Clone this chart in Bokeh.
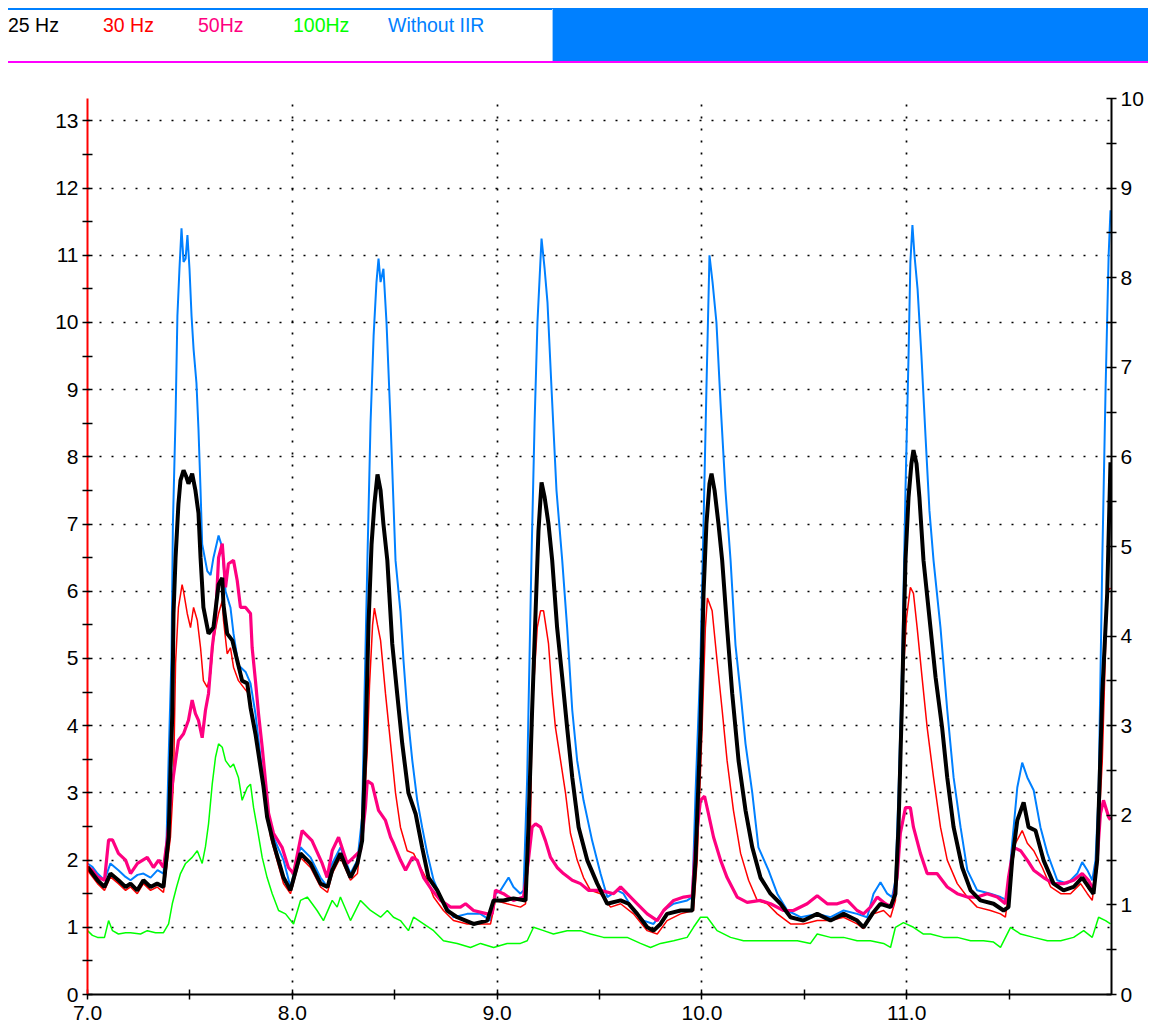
from bokeh.plotting import figure
from bokeh.layouts import column
from bokeh.models import Range1d, LinearAxis, FixedTicker, PrintfTickFormatter, Div
from bokeh.embed import file_html
from bokeh.resources import INLINE

FONT = "Liberation Sans"

series_names = ["25 Hz", "30 Hz", "50Hz", "100Hz", "Without IIR"]
series_colors = ["#000000", "#FF0000", "#FF0080", "#00FF00", "#0080FF"]

x_ticks = [7, 8, 9, 10, 11]
y_ticks_left = list(range(0, 14))
y_ticks_right = list(range(0, 11))

# Without IIR (blue)
t_blue = [7.000, 7.024, 7.049, 7.083, 7.112, 7.151, 7.186, 7.210, 7.244, 7.273, 7.308, 7.342, 7.371, 7.386,
          7.396, 7.410, 7.417, 7.430, 7.439, 7.449, 7.459, 7.469, 7.479, 7.488, 7.498, 7.508, 7.518, 7.532,
          7.542, 7.552, 7.560, 7.585, 7.601, 7.615, 7.640, 7.658, 7.674, 7.698, 7.713, 7.737, 7.772, 7.796,
          7.820, 7.845, 7.859, 7.877, 7.908, 7.957, 7.991, 8.040, 8.089, 8.138, 8.172, 8.187, 8.235, 8.284,
          8.318, 8.341, 8.353, 8.367, 8.382, 8.397, 8.411, 8.421, 8.431, 8.445, 8.460, 8.480, 8.504, 8.528,
          8.543, 8.561, 8.586, 8.610, 8.634, 8.659, 8.690, 8.732, 8.787, 8.854, 8.919, 8.968, 8.992, 9.017,
          9.056, 9.080, 9.114, 9.129, 9.147, 9.153, 9.168, 9.183, 9.197, 9.217, 9.232, 9.246, 9.266, 9.290,
          9.318, 9.342, 9.367, 9.391, 9.422, 9.464, 9.505, 9.538, 9.587, 9.617, 9.666, 9.715, 9.764, 9.813,
          9.862, 9.928, 9.953, 9.969, 9.993, 10.008, 10.022, 10.037, 10.052, 10.071, 10.091, 10.115, 10.140,
          10.164, 10.189, 10.213, 10.246, 10.276, 10.325, 10.368, 10.417, 10.482, 10.563, 10.628, 10.692,
          10.758, 10.807, 10.838, 10.872, 10.905, 10.929, 10.945, 10.960, 10.978, 10.994, 11.009, 11.018,
          11.028, 11.038, 11.053, 11.072, 11.092, 11.111, 11.131, 11.165, 11.198, 11.229, 11.263, 11.296,
          11.344, 11.409, 11.458, 11.491, 11.515, 11.540, 11.564, 11.589, 11.620, 11.653, 11.687, 11.735,
          11.784, 11.833, 11.857, 11.882, 11.906, 11.922, 11.937, 11.955, 11.971, 11.986, 11.995]
v_blue = [1.95, 1.9, 1.8, 1.7, 1.95, 1.85, 1.75, 1.7, 1.78, 1.8, 1.74, 1.85, 1.8, 2.3,
          3.5, 5.0, 7.0, 8.6, 10.1, 10.8, 11.4, 10.9, 10.95, 11.3, 10.8, 10.1, 9.6, 9.1,
          8.4, 7.5, 6.7, 6.3, 6.24, 6.5, 6.83, 6.65, 6.0, 5.76, 5.37, 4.9, 4.8, 4.63,
          4.18, 3.53, 3.2, 2.64, 2.34, 2.0, 1.6, 2.19, 2.04, 1.74, 1.6, 1.9, 2.19, 1.8,
          2.0, 2.64, 4.5, 6.5, 8.5, 9.8, 10.6, 10.95, 10.6, 10.8, 10.0, 8.5, 6.46, 5.7,
          4.97, 4.23, 3.48, 2.89, 2.49, 2.1, 1.7, 1.4, 1.15, 1.2, 1.2, 1.1, 1.5, 1.55,
          1.74, 1.6, 1.5, 1.55, 3.23, 4.2, 6.5, 8.5, 10.0, 11.25, 10.8, 10.3, 9.0, 7.5,
          6.46, 5.46, 4.23, 3.48, 2.89, 2.29, 1.8, 1.45, 1.55, 1.5, 1.25, 1.1, 1.05, 1.25,
          1.35, 1.4, 1.45, 3.0, 4.97, 7.0, 9.0, 11.0, 10.6, 10.0, 8.8, 7.5, 6.46,
          5.2, 4.48, 3.73, 3.0, 2.19, 1.85, 1.5, 1.25, 1.15, 1.2, 1.15, 1.25,
          1.2, 1.15, 1.5, 1.67, 1.5, 1.45, 1.7, 3.0, 4.97, 7.5, 9.5, 10.9,
          11.45, 11.0, 10.5, 9.5, 8.3, 7.2, 6.46, 5.46, 4.23, 3.23, 2.49, 1.85,
          1.55, 1.5, 1.45, 1.4, 2.25, 3.08, 3.45, 3.23, 3.04, 2.49, 2.1, 1.7,
          1.65, 1.8, 1.97, 1.85, 1.7, 2.0, 3.0, 6.46, 9.0, 11.0, 11.67]

# 25 Hz (black)
t_black = [7.000, 7.024, 7.049, 7.083, 7.112, 7.151, 7.186, 7.210, 7.243, 7.273, 7.308, 7.340, 7.371, 7.396,
           7.405, 7.414, 7.420, 7.430, 7.444, 7.454, 7.469, 7.483, 7.493, 7.511, 7.527, 7.542, 7.552, 7.566,
           7.591, 7.615, 7.640, 7.658, 7.664, 7.682, 7.707, 7.731, 7.755, 7.780, 7.796, 7.820, 7.845, 7.859,
           7.877, 7.908, 7.957, 7.991, 8.040, 8.089, 8.138, 8.172, 8.195, 8.235, 8.284, 8.318, 8.341, 8.357,
           8.372, 8.387, 8.401, 8.416, 8.431, 8.445, 8.464, 8.488, 8.512, 8.537, 8.567, 8.602, 8.634, 8.665,
           8.708, 8.756, 8.805, 8.885, 8.952, 8.983, 9.031, 9.080, 9.139, 9.153, 9.171, 9.188, 9.202, 9.217,
           9.232, 9.251, 9.269, 9.293, 9.318, 9.342, 9.367, 9.398, 9.440, 9.489, 9.538, 9.603, 9.642, 9.684,
           9.733, 9.764, 9.798, 9.830, 9.896, 9.953, 9.969, 9.993, 10.008, 10.022, 10.037, 10.047, 10.062,
           10.081, 10.099, 10.123, 10.148, 10.179, 10.213, 10.246, 10.286, 10.335, 10.384, 10.433, 10.496,
           10.563, 10.628, 10.692, 10.758, 10.789, 10.832, 10.872, 10.921, 10.945, 10.960, 10.978, 10.994,
           11.009, 11.023, 11.033, 11.048, 11.062, 11.082, 11.116, 11.141, 11.173, 11.198, 11.229, 11.271,
           11.312, 11.360, 11.424, 11.473, 11.497, 11.515, 11.540, 11.571, 11.595, 11.629, 11.668, 11.717,
           11.766, 11.815, 11.857, 11.888, 11.912, 11.930, 11.955, 11.979, 11.995]
v_black = [1.9, 1.8, 1.7, 1.6, 1.8, 1.7, 1.6, 1.65, 1.55, 1.7, 1.6, 1.65, 1.6, 2.34,
           3.3, 4.18, 5.67, 6.5, 7.3, 7.65, 7.8, 7.7, 7.6, 7.75, 7.5, 7.16, 6.5, 5.76,
           5.37, 5.46, 6.1, 6.2, 5.8, 5.37, 5.27, 4.97, 4.67, 4.63, 4.27, 3.88, 3.38, 3.1,
           2.64, 2.25, 1.74, 1.55, 2.1, 1.95, 1.65, 1.6, 1.85, 2.1, 1.74, 1.95, 2.29, 3.63,
           5.5, 6.7, 7.3, 7.74, 7.5, 7.0, 6.46, 5.22, 4.48, 3.73, 3.0, 2.69, 2.19, 1.74,
           1.55, 1.25, 1.15, 1.05, 1.1, 1.4, 1.4, 1.43, 1.4, 2.49, 4.23, 5.7, 6.9, 7.62,
           7.4, 7.0, 6.46, 5.46, 4.72, 3.97, 3.23, 2.49, 2.0, 1.65, 1.35, 1.4, 1.35, 1.2,
           1.0, 0.95, 1.05, 1.2, 1.25, 1.25, 2.0, 3.97, 5.97, 7.0, 7.6, 7.75, 7.5,
           7.0, 6.46, 5.46, 4.48, 3.48, 2.74, 2.19, 1.74, 1.5, 1.35, 1.15, 1.1,
           1.2, 1.1, 1.2, 1.1, 1.0, 1.2, 1.35, 1.3, 1.5, 2.49, 4.48, 6.46,
           7.4, 7.9, 8.1, 7.9, 7.4, 6.46, 5.46, 4.72, 3.97, 3.23, 2.49, 1.89,
           1.55, 1.4, 1.35, 1.25, 1.3, 2.0, 2.59, 2.86, 2.49, 2.44, 2.0, 1.65,
           1.55, 1.6, 1.74, 1.6, 1.5, 2.0, 4.48, 5.97, 7.92]

# 30 Hz (red)
t_red = [7.000, 7.024, 7.049, 7.083, 7.112, 7.151, 7.186, 7.210, 7.243, 7.273, 7.308, 7.340, 7.371, 7.405,
         7.420, 7.430, 7.444, 7.462, 7.469, 7.487, 7.503, 7.518, 7.536, 7.552, 7.566, 7.585, 7.601, 7.615,
         7.640, 7.658, 7.664, 7.682, 7.698, 7.713, 7.737, 7.762, 7.786, 7.811, 7.835, 7.859, 7.877, 7.894,
         7.957, 7.991, 8.040, 8.089, 8.138, 8.172, 8.195, 8.235, 8.284, 8.318, 8.348, 8.366, 8.377, 8.392,
         8.401, 8.416, 8.431, 8.455, 8.480, 8.504, 8.528, 8.561, 8.592, 8.626, 8.659, 8.690, 8.738, 8.787,
         8.854, 8.919, 8.968, 8.992, 9.049, 9.114, 9.139, 9.163, 9.171, 9.196, 9.212, 9.227, 9.251, 9.269,
         9.285, 9.310, 9.334, 9.358, 9.391, 9.422, 9.456, 9.505, 9.554, 9.603, 9.666, 9.733, 9.782, 9.830,
         9.896, 9.959, 9.977, 10.001, 10.017, 10.027, 10.050, 10.074, 10.099, 10.123, 10.154, 10.189,
         10.228, 10.270, 10.319, 10.368, 10.433, 10.496, 10.563, 10.628, 10.692, 10.758, 10.789, 10.838,
         10.887, 10.921, 10.945, 10.960, 10.978, 10.999, 11.018, 11.033, 11.051, 11.075, 11.100, 11.131,
         11.165, 11.198, 11.247, 11.296, 11.344, 11.409, 11.458, 11.482, 11.507, 11.531, 11.564, 11.589,
         11.620, 11.662, 11.703, 11.752, 11.800, 11.849, 11.882, 11.906, 11.930, 11.955, 11.979, 11.995]
v_red = [1.85, 1.75, 1.65, 1.55, 1.75, 1.65, 1.55, 1.6, 1.5, 1.65, 1.55, 1.6, 1.52, 2.34,
         3.18, 4.93, 5.76, 6.1, 6.0, 5.67, 5.46, 5.76, 5.57, 5.16, 4.67, 4.57, 4.78, 5.27,
         5.67, 5.86, 5.57, 5.07, 5.16, 4.87, 4.67, 4.57, 4.48, 4.08, 3.59, 3.18, 2.7, 2.34,
         1.65, 1.5, 2.04, 1.89, 1.6, 1.52, 1.8, 2.04, 1.7, 1.8, 2.64, 3.63, 4.6, 5.5,
         5.75, 5.5, 5.27, 4.48, 3.73, 3.0, 2.49, 2.14, 2.1, 1.89, 1.7, 1.45, 1.25, 1.1,
         1.05, 1.05, 1.05, 1.4, 1.35, 1.3, 1.35, 2.49, 4.23, 5.46, 5.71, 5.71, 5.22, 4.48,
         3.97, 3.48, 3.0, 2.4, 2.0, 1.74, 1.55, 1.5, 1.3, 1.35, 1.2, 0.95, 0.9, 1.1,
         1.2, 1.25, 2.0, 3.97, 5.46, 5.9, 5.71, 4.97, 4.23, 3.48, 2.74, 2.1,
         1.7, 1.4, 1.35, 1.2, 1.05, 1.05, 1.1, 1.1, 1.15, 1.05, 0.98, 1.2,
         1.25, 1.15, 1.4, 2.49, 4.48, 5.6, 6.06, 5.97, 5.46, 4.72, 3.97, 3.23,
         2.49, 2.0, 1.65, 1.45, 1.3, 1.25, 1.2, 1.15, 1.74, 2.25, 2.44, 2.25,
         2.14, 1.89, 1.6, 1.5, 1.5, 1.65, 1.5, 1.4, 2.0, 3.48, 6.0, 6.05]

# 50Hz (magenta)
t_mag = [7.000, 7.024, 7.049, 7.083, 7.103, 7.122, 7.151, 7.186, 7.210, 7.244, 7.292, 7.322, 7.347, 7.371,
         7.389, 7.414, 7.430, 7.444, 7.469, 7.493, 7.511, 7.527, 7.542, 7.560, 7.576, 7.591, 7.609, 7.625,
         7.640, 7.658, 7.674, 7.688, 7.713, 7.731, 7.747, 7.772, 7.796, 7.804, 7.820, 7.835, 7.853, 7.869,
         7.884, 7.908, 7.950, 7.981, 8.006, 8.048, 8.096, 8.146, 8.170, 8.195, 8.226, 8.268, 8.299, 8.333,
         8.357, 8.366, 8.390, 8.421, 8.455, 8.480, 8.494, 8.528, 8.553, 8.586, 8.610, 8.641, 8.683, 8.724,
         8.773, 8.821, 8.846, 8.885, 8.952, 8.976, 8.992, 9.031, 9.080, 9.129, 9.153, 9.171, 9.188, 9.212,
         9.236, 9.261, 9.293, 9.324, 9.367, 9.407, 9.446, 9.505, 9.569, 9.603, 9.635, 9.684, 9.733, 9.782,
         9.813, 9.862, 9.911, 9.953, 9.969, 9.993, 10.013, 10.032, 10.057, 10.091, 10.123, 10.172, 10.221,
         10.286, 10.335, 10.399, 10.447, 10.514, 10.563, 10.612, 10.661, 10.710, 10.758, 10.789, 10.823,
         10.856, 10.896, 10.929, 10.953, 10.969, 10.994, 11.018, 11.033, 11.067, 11.100, 11.148, 11.198,
         11.247, 11.296, 11.344, 11.393, 11.442, 11.482, 11.497, 11.522, 11.556, 11.589, 11.620, 11.668,
         11.717, 11.766, 11.815, 11.857, 11.888, 11.912, 11.930, 11.946, 11.961, 11.986, 11.995]
v_mag = [1.9, 1.85, 1.75, 1.7, 2.3, 2.3, 2.1, 2.0, 1.8, 1.95, 2.04, 1.89, 2.0, 1.89,
         2.29, 3.13, 3.48, 3.78, 3.88, 4.08, 4.38, 4.18, 4.08, 3.82, 4.23, 4.48, 5.16, 5.57,
         6.5, 6.71, 6.06, 6.41, 6.46, 6.16, 5.76, 5.76, 5.67, 5.16, 4.67, 4.18, 3.68, 3.18,
         2.7, 2.4, 2.19, 1.89, 1.8, 2.44, 2.29, 1.95, 1.74, 2.14, 2.34, 1.95, 2.04, 2.14,
         2.78, 3.18, 3.13, 2.74, 2.59, 2.34, 2.25, 2.0, 1.85, 2.04, 2.0, 1.74, 1.55, 1.4,
         1.3, 1.3, 1.35, 1.25, 1.2, 1.2, 1.55, 1.5, 1.4, 1.45, 2.0, 2.49, 2.54, 2.49,
         2.29, 2.04, 1.89, 1.8, 1.7, 1.65, 1.55, 1.55, 1.5, 1.6, 1.5, 1.35, 1.2, 1.1,
         1.25, 1.4, 1.45, 1.47, 2.25, 2.89, 2.95, 2.69, 2.34, 2.0, 1.74, 1.45, 1.37,
         1.4, 1.35, 1.25, 1.25, 1.35, 1.47, 1.35, 1.35, 1.4, 1.25, 1.2, 1.3,
         1.45, 1.35, 1.3, 1.74, 2.4, 2.78, 2.78, 2.49, 2.1, 1.8, 1.8, 1.6,
         1.5, 1.45, 1.45, 1.5, 1.45, 1.35, 1.74, 2.19, 2.14, 2.0, 1.85, 1.74,
         1.65, 1.65, 1.7, 1.8, 1.7, 1.55, 2.0, 2.69, 2.89, 2.64, 2.6]

# 100Hz (green)
t_green = [7.000, 7.024, 7.049, 7.083, 7.103, 7.122, 7.151, 7.186, 7.210, 7.259, 7.292, 7.332, 7.371, 7.396,
           7.414, 7.435, 7.454, 7.479, 7.511, 7.536, 7.560, 7.576, 7.591, 7.609, 7.625, 7.640, 7.658, 7.674,
           7.698, 7.713, 7.737, 7.755, 7.780, 7.796, 7.811, 7.828, 7.853, 7.877, 7.902, 7.933, 7.967, 8.006,
           8.040, 8.073, 8.121, 8.152, 8.195, 8.219, 8.235, 8.284, 8.333, 8.382, 8.431, 8.464, 8.494, 8.528,
           8.567, 8.592, 8.641, 8.690, 8.738, 8.805, 8.870, 8.919, 8.983, 9.049, 9.114, 9.147, 9.178, 9.227,
           9.275, 9.342, 9.407, 9.456, 9.520, 9.569, 9.635, 9.700, 9.749, 9.798, 9.862, 9.928, 9.959, 9.993,
           10.026, 10.074, 10.140, 10.203, 10.270, 10.335, 10.399, 10.466, 10.530, 10.563, 10.628, 10.692,
           10.758, 10.823, 10.887, 10.921, 10.945, 10.984, 11.033, 11.082, 11.116, 11.180, 11.247, 11.312,
           11.375, 11.424, 11.458, 11.507, 11.556, 11.620, 11.687, 11.752, 11.815, 11.864, 11.906, 11.937,
           11.971, 11.995]
v_green = [0.95, 0.88, 0.85, 0.85, 1.1, 0.95, 0.9, 0.92, 0.92, 0.9, 0.95, 0.92, 0.92, 1.05,
           1.35, 1.6, 1.8, 1.95, 2.04, 2.14, 1.95, 2.2, 2.54, 3.13, 3.53, 3.73, 3.68, 3.48,
           3.38, 3.43, 3.23, 2.89, 3.08, 3.13, 2.78, 2.49, 2.04, 1.74, 1.5, 1.25, 1.2, 1.05,
           1.4, 1.45, 1.25, 1.1, 1.4, 1.3, 1.45, 1.1, 1.4, 1.25, 1.15, 1.25, 1.15, 1.1,
           0.95, 1.15, 1.05, 0.95, 0.8, 0.76, 0.7, 0.76, 0.7, 0.76, 0.76, 0.8, 1.0, 0.95,
           0.9, 0.95, 0.95, 0.9, 0.85, 0.85, 0.85, 0.76, 0.7, 0.76, 0.8, 0.85, 1.0, 1.15,
           1.15, 0.95, 0.85, 0.8, 0.8, 0.8, 0.8, 0.8, 0.76, 0.9, 0.85, 0.85,
           0.8, 0.8, 0.76, 0.7, 1.0, 1.07, 1.0, 0.9, 0.9, 0.85, 0.85, 0.8,
           0.8, 0.78, 0.7, 1.0, 0.9, 0.85, 0.8, 0.8, 0.85, 0.95, 0.85, 1.15,
           1.1, 1.05]

# ---------------- legend strip (HTML) ----------------
legend_left = [8, 103, 198, 293, 388]
spans = []
for nm, col, lx in zip(series_names, series_colors, legend_left):
    spans.append(
        f'<span style="position:absolute;left:{lx}px;top:16px;font-family:\'{FONT}\';'
        f'font-size:19.5px;line-height:19px;color:{col};white-space:nowrap;">{nm}</span>')
strip_html = (
    '<div style="position:relative;width:1148px;height:63px;background:white;">'
    '<div style="position:absolute;left:8px;top:8px;width:1140px;height:1.5px;background:#0080FF;"></div>'
    '<div style="position:absolute;left:553px;top:8px;width:595px;height:53px;background:#0080FF;"></div>'
    '<div style="position:absolute;left:552px;top:9px;width:1px;height:52px;background:#99CCFF;"></div>'
    '<div style="position:absolute;left:8px;top:61px;width:1140px;height:2px;background:#FF00FF;"></div>'
    + "".join(spans) + '</div>')
strip = Div(text=strip_html, width=1148, height=63, margin=(0, 0, 0, 0))

# ---------------- main chart ----------------
p = figure(frame_width=1024, frame_height=896, x_range=Range1d(7.0, 12.0), y_range=Range1d(0, 13.333),
           output_backend="svg", toolbar_location=None,
           min_border_left=87, min_border_right=37, min_border_top=35, min_border_bottom=26)
p.outline_line_color = None
p.background_fill_color = "white"
p.extra_y_ranges = {"right": Range1d(0, 10)}

p.xaxis.ticker = FixedTicker(ticks=x_ticks, minor_ticks=[7.5, 8.5, 9.5, 10.5, 11.5])
p.xaxis.formatter = PrintfTickFormatter(format="%.1f")
p.yaxis.ticker = FixedTicker(ticks=y_ticks_left, minor_ticks=[i + 0.5 for i in range(0, 13)])

raxis = LinearAxis(y_range_name="right",
                   ticker=FixedTicker(ticks=y_ticks_right, minor_ticks=[i + 0.5 for i in range(0, 10)]))
p.add_layout(raxis, "right")

for ax in [p.xaxis[0], p.yaxis[0], raxis]:
    ax.major_label_text_font = FONT
    ax.major_label_text_font_size = "21px"
    ax.major_label_text_color = "black"
    ax.major_tick_in = 5
    ax.major_tick_out = 5
    ax.minor_tick_in = 5
    ax.minor_tick_out = 5
    ax.major_tick_line_color = "black"
    ax.minor_tick_line_color = "black"
    ax.major_tick_line_width = 1.5
    ax.minor_tick_line_width = 1.5
    ax.axis_line_width = 2
    ax.axis_line_color = "black"
    ax.major_label_standoff = 4
p.yaxis[0].axis_line_color = "#FF0000"
p.xaxis[0].major_label_standoff = 6

p.xgrid.ticker = FixedTicker(ticks=[8, 9, 10, 11])
p.ygrid.ticker = FixedTicker(ticks=list(range(1, 14)))
for g in [p.xgrid[0], p.ygrid[0]]:
    g.grid_line_color = "black"
    g.grid_line_dash = "2 10"
    g.grid_line_width = 1.7

p.line(t_green, v_green, line_color=series_colors[3], line_width=1.5)
p.line(t_blue, v_blue, line_color=series_colors[4], line_width=2)
p.line(t_red, v_red, line_color=series_colors[1], line_width=1.5)
p.line(t_mag, v_mag, line_color=series_colors[2], line_width=3.2)
p.line(t_black, v_black, line_color=series_colors[0], line_width=4)

layout = column(strip, p, spacing=0)
open("out.html", "w").write(file_html(layout, INLINE))
